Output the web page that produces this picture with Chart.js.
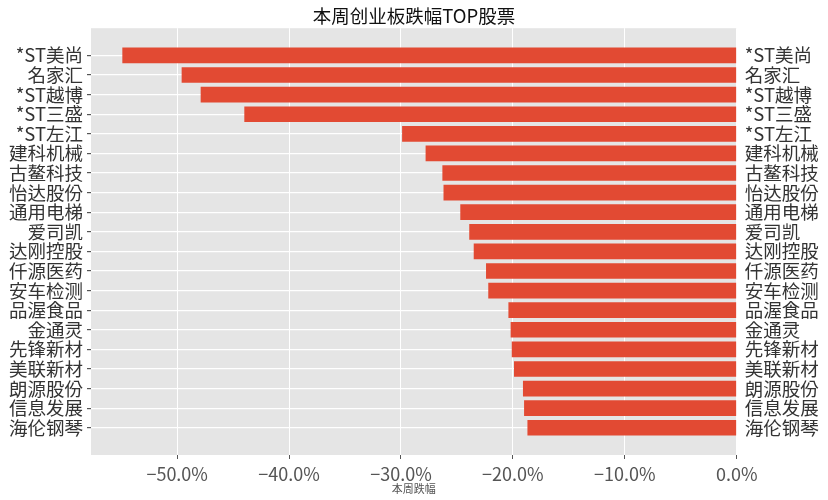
<!DOCTYPE html>
<html>
<head>
    <meta charset="UTF-8">
    <title>本周创业板跌幅TOP股票</title>
    <script src="https://cdn.jsdelivr.net/npm/chart.js@4.4.1/dist/chart.umd.min.js"></script>
    <style>
        body {
            margin: 0;
            background: #fff;
        }
        #chart {
            display: block;
        }
    </style>
</head>
<body>
    <canvas id="chart" width="828" height="500"></canvas>
    <script>
        // Data (weekly change, %)
        const stocks = ['*ST美尚', '名家汇', '*ST越博', '*ST三盛', '*ST左江', '建科机械', '古鳌科技', '怡达股份',
            '通用电梯', '爱司凯', '达刚控股', '仟源医药', '安车检测', '品渥食品', '金通灵', '先锋新材',
            '美联新材', '朗源股份', '信息发展', '海伦钢琴'];
        const changes = [-54.9, -49.6, -47.9, -44.0, -29.9, -27.8, -26.3, -26.2,
            -24.7, -23.9, -23.5, -22.4, -22.2, -20.4, -20.2, -20.1,
            -19.9, -19.1, -19.0, -18.7];
        const xTicks = [-50, -40, -30, -20, -10, 0];

        const FONT = "'Noto Sans CJK JP', 'Noto Sans CJK SC', sans-serif";
        const pad = 1.39; // matplotlib-like margin around the bars
        const fmtPct = v => (v < 0 ? '\u2212' : '') + Math.abs(v).toFixed(1) + '%';

        // grey plot background like ggplot style
        const plotBg = {
            id: 'plotBg',
            beforeDraw(chart) {
                const a = chart.chartArea;
                const c = chart.ctx;
                c.save();
                c.fillStyle = '#E5E5E5';
                c.fillRect(a.left, a.top, a.right - a.left, a.bottom - a.top);
                c.restore();
            }
        };

        const nameTicks = scale => {
            scale.ticks = stocks.map((_, i) => ({ value: i }));
        };

        const ctx = document.getElementById('chart').getContext('2d');
        new Chart(ctx, {
            type: 'bar',
            data: {
                datasets: [{
                    label: '本周跌幅',
                    data: changes.map((v, i) => ({ x: v, y: i })),
                    backgroundColor: '#E24A33',
                    borderWidth: 0,
                    categoryPercentage: 1,
                    barPercentage: 0.8
                }]
            },
            options: {
                indexAxis: 'y',
                responsive: false,
                animation: false,
                devicePixelRatio: 1,
                layout: { padding: 0 },
                plugins: {
                    legend: { display: false },
                    tooltip: { enabled: false },
                    title: {
                        display: true,
                        text: '本周创业板跌幅TOP股票',
                        color: '#111',
                        font: { family: FONT, size: 18.5, weight: 'normal', lineHeight: 1.2 },
                        padding: { top: 5, bottom: 1 }
                    }
                },
                scales: {
                    x: {
                        type: 'linear',
                        min: -57.7,
                        max: 0,
                        offset: false,
                        afterBuildTicks: s => { s.ticks = xTicks.map(v => ({ value: v })); },
                        afterFit: s => { s.height = 45; },
                        border: { display: false },
                        grid: { offset: false, color: '#fff', lineWidth: 1, tickColor: '#555', tickLength: 4 },
                        ticks: {
                            color: '#555',
                            padding: 4,
                            font: { family: FONT, size: 18 },
                            callback: v => fmtPct(v)
                        },
                        title: {
                            display: true,
                            text: '本周跌幅',
                            color: '#555',
                            font: { family: FONT, size: 11 },
                            padding: { top: 0, bottom: 5 }
                        }
                    },
                    y: {
                        type: 'linear',
                        position: 'left',
                        reverse: true,
                        offset: false,
                        min: -pad,
                        max: stocks.length - 1 + pad,
                        afterBuildTicks: nameTicks,
                        afterFit: s => { s.width = 91; },
                        border: { display: false },
                        grid: { offset: false, color: '#fff', lineWidth: 1.2, tickColor: '#555', tickLength: 4 },
                        ticks: {
                            autoSkip: false,
                            color: '#333',
                            padding: 4,
                            font: { family: FONT, size: 18.5, lineHeight: 1 },
                            callback: v => stocks[v]
                        }
                    },
                    y2: {
                        type: 'linear',
                        position: 'right',
                        reverse: true,
                        offset: false,
                        min: -pad,
                        max: stocks.length - 1 + pad,
                        afterBuildTicks: nameTicks,
                        afterFit: s => { s.width = 91.3; },
                        border: { display: false },
                        grid: { offset: false, drawOnChartArea: false, tickColor: 'rgba(0,0,0,0)', tickLength: 4 },
                        ticks: {
                            autoSkip: false,
                            color: '#333',
                            padding: 4,
                            font: { family: FONT, size: 18.5, lineHeight: 1 },
                            callback: v => stocks[v]
                        }
                    }
                }
            },
            plugins: [plotBg]
        });
    </script>
</body>
</html>
